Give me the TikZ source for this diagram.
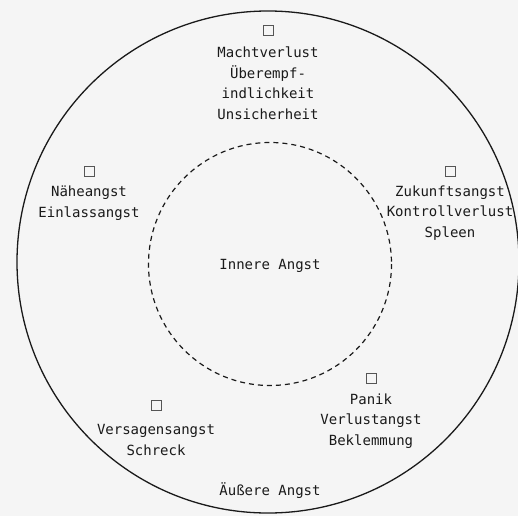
\documentclass[tikz,border=0pt]{standalone}
\usepackage{fontspec}
\setmonofont{DejaVu Sans Mono}
\definecolor{bg}{HTML}{F5F5F5}
\definecolor{ink}{HTML}{1A1A1A}
\definecolor{boxc}{HTML}{555555}
\tikzset{
  lbl/.style={align=center, text=ink, inner sep=0pt, font=\ttfamily\fontsize{14}{20.5}\selectfont},
  tofu/.style={draw=boxc, line width=0.9pt, minimum size=10pt, inner sep=0pt},
  outer/.style={draw=ink, line width=1.3pt},
  inner/.style={draw=ink, line width=1.2pt, dash pattern=on 5pt off 4pt}
}
\begin{document}
\begin{tikzpicture}[x=1pt,y=-1pt]
\fill[bg] (0,0) rectangle (518,516);
\useasboundingbox (0,0) rectangle (518,516);
\begin{scope}
\clip (0,0) rectangle (518,516);
\draw[outer] (268,262) circle (251);
\end{scope}
\draw[inner] (270,264) circle (121.5);
\node[lbl] (inn) at (270,266) {Innere Angst};
\node[lbl] (aus) at (270,491) {Äußere Angst};
\node[tofu] (s1) at (268,30) {};
\node[lbl] (t1) at (268,83) {Machtverlust\\Überempf-\\indlichkeit\\Unsicherheit};
\node[tofu] (s2) at (89,171) {};
\node[lbl] (t2) at (89,203) {Näheangst\\Einlassangst};
\node[tofu] (s3) at (450,171) {};
\node[lbl] (t3) at (450,213) {Zukunftsangst\\Kontrollverlust\\Spleen};
\node[tofu] (s4) at (371,378) {};
\node[lbl] (t4) at (371,421) {Panik\\Verlustangst\\Beklemmung};
\node[tofu] (s5) at (156,405) {};
\node[lbl] (t5) at (156,440) {Versagensangst\\Schreck};
\end{tikzpicture}
\end{document}
